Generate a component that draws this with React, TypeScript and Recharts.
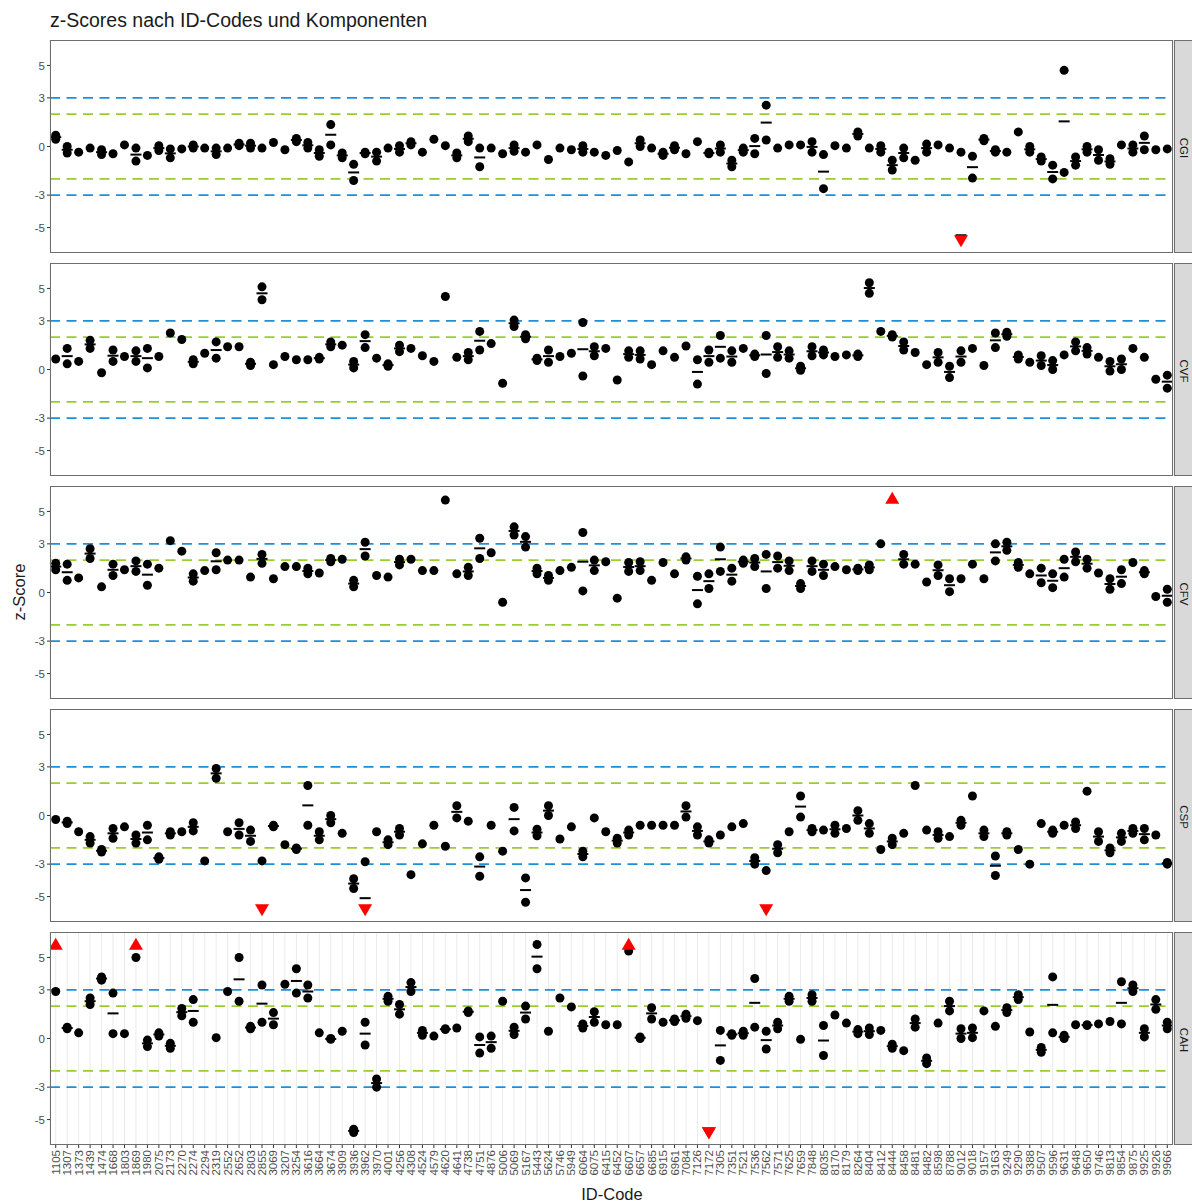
import React from 'react';
import { ScatterChart, Scatter, XAxis, YAxis, CartesianGrid, ReferenceLine } from 'recharts';

const ids = [
  '1105','1307','1373','1439','1474','1668','1803','1869','1980','2075',
  '2173','2270','2274','2294','2319','2552','2652','2803','2855','3069',
  '3207','3254','3616','3664','3674','3909','3936','3962','3970','4001',
  '4256','4308','4524','4579','4620','4641','4738','4751','4876','5006',
  '5069','5167','5443','5624','5746','5949','6064','6075','6415','6452',
  '6607','6657','6685','6915','6961','7084','7126','7172','7305','7351',
  '7521','7536','7562','7571','7625','7659','7848','8035','8170','8179',
  '8264','8404','8412','8444','8458','8481','8482','8598','8788','9012',
  '9018','9157','9163','9249','9290','9388','9507','9596','9631','9648',
  '9650','9746','9813','9854','9875','9925','9926','9966'
];

const yTicks = [-5, -3, 0, 3, 5];

const cgiA = [0.7,0,-0.35,-0.1,-0.2,-0.45,0.1,-0.1,-0.55,0.05,-0.15,-0.15,0.1,-0.1,-0.1,-0.1,0.2,0.2,-0.1,0.25,-0.2,0.5,0.25,-0.2,1.35,-0.4,-1.1,-0.35,-0.35,-0.1,0.05,0.3,-0.35,0.45,0.05,-0.4,0.65,-0.1,-0.1,-0.45,0.1,-0.35,0.1,-0.8,-0.1,-0.2,0.05,-0.35,-0.55,-0.25,-0.95,0.4,-0.1,-0.35,0.05,-0.45,0.3,-0.35,0.1,-0.85,-0.1,0.5,2.55,-0.1,0.1,0.1,0.3,-0.5,0.05,-0.1,0.9,-0.1,0.05,-0.85,-0.1,-0.85,0.15,0.1,-0.1,-0.35,-0.6,0.5,-0.2,-0.35,0.9,0,-0.65,-1.15,4.7,-0.65,0,-0.2,-0.75,0.1,0.1,0.65,-0.2,-0.15];
const cgiB = [0.45,-0.4,null,null,-0.5,null,null,-0.9,null,-0.25,-0.7,null,-0.1,null,-0.5,null,0.05,-0.1,null,null,null,0.3,-0.1,-0.6,0.1,-0.7,-2.1,-0.45,-0.9,null,-0.35,0.1,null,null,null,-0.7,0.3,-1.25,null,null,-0.3,null,null,null,null,null,-0.35,null,null,null,null,0,null,-0.55,-0.2,null,null,-0.45,-0.35,-1.25,-0.35,-0.45,0.4,null,null,null,-0.35,-2.6,null,null,0.65,null,-0.35,-1.45,-0.7,null,-0.35,null,null,-10.6,-1.95,0.35,-0.35,null,null,-0.35,-0.9,-2.0,-1.6,-1.15,-0.35,-0.85,-1.1,null,-0.35,-0.2,null,null];

const cvfA = [0.65,1.3,0.5,1.8,-0.2,1.2,0.8,1.15,1.3,0.8,2.25,1.85,0.6,1.0,1.7,1.4,1.4,0.45,5.1,0.3,0.8,0.6,0.6,0.75,1.7,1.5,0.5,2.15,0.7,0.35,1.5,1.3,0.85,0.5,4.5,0.75,1.05,2.35,1.6,-0.85,3.05,2.15,0.7,1.2,0.8,1.0,2.9,1.4,1.3,-0.65,1.15,1.15,0.3,1.15,0.75,1.45,0.6,1.2,2.1,1.15,1.3,0.95,2.1,1.4,1.15,0.2,1.4,1.2,0.8,0.9,0.95,5.35,2.35,2.15,1.7,1.05,0.3,1.05,0.2,1.15,1.3,0.25,2.25,2.3,0.9,0.45,0.85,0.55,0.9,1.7,1.35,0.75,0.5,0.65,1.3,0.75,-0.6,-0.35];
const cvfB = [null,0.35,null,1.3,null,0.5,null,0.5,0.1,null,null,null,0.35,null,0.7,null,null,0.25,4.3,null,null,null,null,0.65,1.4,null,0.1,1.35,null,0.2,1.1,null,null,null,null,null,0.6,1.2,null,null,2.65,1.9,0.55,0.45,null,null,-0.4,0.85,null,null,0.75,0.65,null,null,null,null,-0.9,0.45,0.7,0.45,null,0.8,-0.25,0.75,0.7,-0.05,0.85,0.9,null,null,0.8,4.7,null,2.0,1.2,null,null,0.45,-0.5,0.45,null,null,1.35,2.05,0.65,null,0.25,0,null,1.15,0.95,null,-0.1,0,null,null,null,-1.15];

const cfvA = [1.8,1.75,0.9,2.7,0.35,1.75,1.4,1.95,1.75,1.5,3.2,2.55,1.15,1.35,2.45,2.0,2.0,0.95,2.35,0.85,1.6,1.6,1.5,1.2,2.1,2.05,0.75,3.1,1.05,0.95,2.05,2.05,1.35,1.35,5.7,1.15,1.55,3.35,2.45,-0.6,4.05,3.45,1.5,1.05,1.35,1.55,3.7,2.0,1.9,-0.35,1.85,1.9,0.75,1.85,1.15,2.2,1.0,1.15,2.8,1.5,2.0,2.1,2.35,2.25,1.95,0.55,1.95,1.75,1.6,1.4,1.5,1.7,3.0,7.8,2.35,1.75,0.65,1.7,0.85,0.85,1.75,0.85,3.0,3.1,1.85,1.15,1.5,1.15,2.05,2.5,2.05,1.2,0.85,1.4,1.85,1.35,-0.25,0.2];
const cfvB = [1.4,0.75,null,2.1,null,1.05,null,1.3,0.45,null,null,null,0.7,null,1.4,null,null,null,1.8,null,null,null,1.15,null,1.9,null,0.35,2.25,null,null,1.7,null,null,null,null,null,1.05,2.1,null,null,3.55,2.8,1.15,0.75,null,null,0.1,1.35,null,null,1.3,1.35,null,null,null,2.0,-0.7,0.25,1.3,0.7,1.8,1.6,0.25,1.5,1.35,0.25,1.3,1.05,null,null,1.35,1.4,null,null,1.75,null,null,1.05,0.05,null,null,null,1.95,2.6,1.55,null,0.6,0.3,0.95,1.9,1.5,null,0.2,0.55,null,1.15,null,-0.6];

const cspA = [-0.25,-0.35,-1.0,-1.3,-2.1,-0.8,-0.7,-1.2,-0.6,-2.55,-1.0,-1.0,-0.45,-2.8,2.9,-1.0,-0.45,-0.9,-2.8,-0.6,-1.8,-2.0,1.85,-1.0,0,-1.1,-3.9,-2.85,-1.0,-1.5,-0.8,-3.65,-1.75,-0.6,-1.9,0.6,-0.35,-2.55,-0.6,-2.2,0.5,-3.85,-0.85,0.6,-1.45,-0.7,-2.2,-0.15,-1.0,-1.4,-0.9,-0.6,-0.6,-0.6,-0.6,0.6,-0.7,-1.5,-1.2,-0.7,-0.5,-2.6,-3.4,-1.8,-1.0,1.2,-0.8,-0.9,-0.6,-0.8,0.3,-0.5,-2.1,-1.4,-1.1,1.85,-0.9,-1.0,-1.3,-0.3,1.2,-0.9,-2.5,-1.0,-2.1,-3.0,-0.5,-0.9,-0.6,-0.4,1.5,-1.0,-2.0,-1.1,-0.8,-0.8,-1.2,-2.9];
const cspB = [null,-0.5,null,-1.7,-2.25,-1.4,null,-1.7,-1.5,-2.7,-1.2,null,-0.95,null,2.3,null,-1.2,-1.6,-11,-0.7,null,-2.1,-0.6,-1.5,-0.45,null,-4.5,-7.35,null,-1.8,-1.2,null,null,null,null,-0.15,null,-3.75,null,null,-0.95,-5.35,-1.25,0,null,null,-2.55,null,null,-1.7,-1.2,null,null,null,null,-0.1,-1.2,-1.7,null,null,null,-3.0,-10,-2.3,null,-0.1,-1.0,null,-1.1,null,-0.3,-1.1,null,-1.8,null,null,null,-1.4,null,-0.6,null,-1.3,-3.7,-1.2,null,null,null,-1.1,null,-0.8,null,-1.6,-2.3,-1.6,-1.1,-1.5,null,-3.0];

const cahA = [2.9,0.7,0.35,2.5,3.8,2.8,0.3,5.0,-0.1,0.35,-0.3,1.85,2.4,null,0.05,2.9,5.0,0.75,3.3,1.6,3.35,4.3,3.3,0.35,0,0.45,-5.6,1.0,-2.5,2.6,2.1,3.45,0.5,0.15,0.6,0.65,1.7,0.1,0.15,2.3,0.7,2.0,5.8,0.45,2.5,1.95,0.65,1.65,0.85,0.85,5.4,0.1,1.9,1.0,1.2,1.5,1.1,-9,0.5,0.3,0.45,3.7,0.45,1.0,2.6,-0.05,2.7,0.8,1.45,0.95,0.55,0.65,0.5,-0.35,-0.75,1.2,-1.2,0.95,2.3,0.6,0.65,1.7,0.75,1.9,2.7,0.4,-0.55,3.8,0.2,0.85,0.85,0.9,1.05,3.5,3.3,0.6,2.4,1.0];
const cahB = [11,0.6,null,2.1,3.6,0.3,null,9,-0.5,0.15,-0.6,1.4,1.0,null,null,null,2.3,0.6,1.0,0.85,null,2.8,2.5,null,-0.05,null,-5.8,-0.4,-3.0,2.3,1.5,2.9,0.2,null,0.55,null,1.6,-0.9,-0.6,null,0.25,1.2,4.3,null,null,null,0.9,1.0,null,null,9,0,1.2,null,1.05,1.25,null,-12,-1.35,0.2,0.2,0.7,-0.65,0.6,2.3,null,2.3,-1.05,null,null,0.3,0.25,null,-0.6,null,0.7,-1.55,null,1.7,0,0.05,null,null,1.6,2.4,null,-0.85,0.35,0,null,0.8,null,null,0.9,2.9,0.1,1.8,0.6];

const panels = [
  { name: 'CGI', a: cgiA, b: cgiB },
  { name: 'CVF', a: cvfA, b: cvfB },
  { name: 'CFV', a: cfvA, b: cfvB },
  { name: 'CSP', a: cspA, b: cspB },
  { name: 'CAH', a: cahA, b: cahB },
];

const LIM = 6.57;
const EDGE = 5.85;
const PANEL_H = 213;
const PANEL_TOP = [40, 263, 486, 709, 932];
const LEFT = 50;
const RIGHT_EDGE = 1173;
const FONT = '"Liberation Sans", Arial, sans-serif';
const xTicks = ids.map((_, i) => i);

function build(a: (number | null)[], b: (number | null)[]) {
  const dots: any[] = [];
  const up: any[] = [];
  const down: any[] = [];
  const means: any[] = [];
  ids.forEach((_, i) => {
    const vals = [a[i], b[i]].filter((v) => v !== null && v !== undefined) as number[];
    vals.forEach((v) => {
      if (v > LIM) up.push({ x: i, y: EDGE });
      else if (v < -LIM) down.push({ x: i, y: -EDGE });
      else dots.push({ x: i, y: v });
    });
    if (vals.length > 1) {
      const m = vals.reduce((s, v) => s + v, 0) / vals.length;
      if (Math.abs(m) <= LIM) means.push({ x: i, y: m });
    }
  });
  return { dots, up, down, means };
}

const Dot = (p: any) => <circle cx={p.cx} cy={p.cy} r={4.5} fill="#000" />;
const Dash = (p: any) => (
  <line x1={p.cx - 5.5} x2={p.cx + 5.5} y1={p.cy} y2={p.cy} stroke="#000" strokeWidth={2} />
);
const TriUp = (p: any) => (
  <polygon points={`${p.cx - 7},${p.cy + 6} ${p.cx + 7},${p.cy + 6} ${p.cx},${p.cy - 6}`} fill="#ff0000" />
);
const TriDown = (p: any) => (
  <polygon points={`${p.cx - 7},${p.cy - 6} ${p.cx + 7},${p.cy - 6} ${p.cx},${p.cy + 6}`} fill="#ff0000" />
);

const XTick = (p: any) => {
  const { x, y, payload } = p;
  return (
    <text
      x={x}
      y={y}
      transform={`rotate(-90 ${x} ${y})`}
      textAnchor="end"
      dy="0.35em"
      fontSize={11.5}
      fill="#4d4d4d"
      fontFamily={FONT}
    >
      {ids[payload.value]}
    </text>
  );
};

function Panel({ idx }: { idx: number }) {
  const p = panels[idx];
  const d = build(p.a, p.b);
  const last = idx === panels.length - 1;
  const xh = last ? 48 : 0;
  return (
    <div style={{ position: 'absolute', left: 0, top: PANEL_TOP[idx] }}>
      <ScatterChart
        width={1192}
        height={PANEL_H + xh}
        margin={{ top: 0, right: 1192 - RIGHT_EDGE, bottom: 0, left: 0 }}
      >
        <CartesianGrid horizontal={false} stroke="#ebebeb" strokeWidth={1} />
        <XAxis
          type="number"
          dataKey="x"
          domain={[-0.5, ids.length - 0.5]}
          ticks={xTicks}
          interval={0}
          height={xh}
          tick={last ? <XTick /> : false}
          tickLine={last ? { stroke: '#333' } : false}
          tickSize={3}
          axisLine={false}
          allowDataOverflow
        />
        <YAxis
          type="number"
          dataKey="y"
          domain={[-LIM, LIM]}
          ticks={yTicks}
          width={LEFT}
          tick={{ fontSize: 11.5, fill: '#4d4d4d', fontFamily: FONT }}
          tickLine={{ stroke: '#333' }}
          tickSize={3}
          axisLine={false}
          allowDataOverflow
        />
        <ReferenceLine y={3} stroke="#1f8fd8" strokeDasharray="10 6.5" strokeWidth={1.6} ifOverflow="hidden" />
        <ReferenceLine y={-3} stroke="#1f8fd8" strokeDasharray="10 6.5" strokeWidth={1.6} ifOverflow="hidden" />
        <ReferenceLine y={2} stroke="#9acd32" strokeDasharray="10 6.5" strokeWidth={1.6} ifOverflow="hidden" />
        <ReferenceLine y={-2} stroke="#9acd32" strokeDasharray="10 6.5" strokeWidth={1.6} ifOverflow="hidden" />
        <Scatter data={d.dots} shape={Dot} isAnimationActive={false} />
        <Scatter data={d.means} shape={Dash} isAnimationActive={false} />
        <Scatter data={d.up} shape={TriUp} isAnimationActive={false} />
        <Scatter data={d.down} shape={TriDown} isAnimationActive={false} />
      </ScatterChart>
      <div
        style={{
          position: 'absolute',
          left: LEFT,
          top: 0,
          width: RIGHT_EDGE - LEFT,
          height: PANEL_H,
          border: '1px solid #6e6e6e',
          boxSizing: 'border-box',
          pointerEvents: 'none',
        }}
      />
      <div
        style={{
          position: 'absolute',
          left: RIGHT_EDGE + 1,
          top: 0,
          width: 1192 - RIGHT_EDGE - 1,
          height: PANEL_H,
          background: '#d9d9d9',
          borderTop: '1px solid #6e6e6e',
          borderBottom: '1px solid #6e6e6e',
          borderLeft: '1px solid #6e6e6e',
          boxSizing: 'border-box',
        }}
      >
        <div
          style={{
            position: 'absolute',
            left: 9,
            top: PANEL_H / 2,
            transform: 'translate(-50%, -50%) rotate(90deg)',
            fontSize: 11.5,
            lineHeight: '12px',
            color: '#1a1a1a',
            fontFamily: FONT,
            whiteSpace: 'nowrap',
          }}
        >
          {p.name}
        </div>
      </div>
    </div>
  );
}

export default function App() {
  return (
    <div
      style={{
        position: 'absolute',
        left: 0,
        top: 0,
        width: 1192,
        height: 1202,
        background: '#fff',
        overflow: 'hidden',
        fontFamily: FONT,
      }}
    >
      <div style={{ position: 'absolute', left: 50, top: 8, fontSize: 19.5, lineHeight: '24px', color: '#1a1a1a', whiteSpace: 'nowrap' }}>
        z-Scores nach ID-Codes und Komponenten
      </div>
      {panels.map((_, i) => (
        <Panel key={i} idx={i} />
      ))}
      <div
        style={{
          position: 'absolute',
          left: 19,
          top: 592,
          transform: 'translate(-50%, -50%) rotate(-90deg)',
          fontSize: 16.5,
          color: '#1a1a1a',
          whiteSpace: 'nowrap',
        }}
      >
        z-Score
      </div>
      <div
        style={{
          position: 'absolute',
          left: 612,
          top: 1194,
          transform: 'translate(-50%, -50%)',
          fontSize: 16.5,
          color: '#1a1a1a',
          whiteSpace: 'nowrap',
        }}
      >
        ID-Code
      </div>
    </div>
  );
}
